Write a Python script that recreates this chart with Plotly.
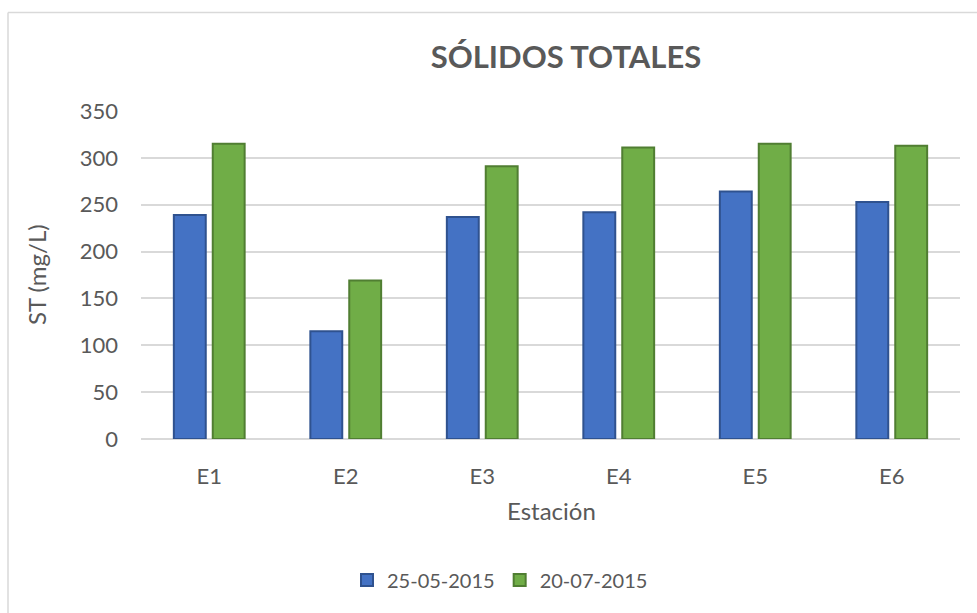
import plotly.graph_objects as go

categories = ["E1", "E2", "E3", "E4", "E5", "E6"]
serie_mayo = [239, 115, 237, 242, 264, 253]
serie_julio = [315, 169, 291, 311, 315, 313]
series_names = ["25-05-2015", "20-07-2015"]
y_ticks = [0, 50, 100, 150, 200, 250, 300, 350]

W, H = 977, 613
L, R, T, B = 141, 17, 111, 174
PW = W - L - R
PH = H - T - B

def px_x(px):
    return (px - L) / PW

def px_y(py):
    return (H - B - py) / PH

FONT = "Lato"
TXT = "#595959"

fig = go.Figure()
fig.add_trace(go.Bar(
    x=categories, y=serie_mayo, name=series_names[0],
    marker=dict(color="#4472C4", line=dict(color="#2F528F", width=2)),
))
fig.add_trace(go.Bar(
    x=categories, y=serie_julio, name=series_names[1],
    marker=dict(color="#70AD47", line=dict(color="#507E32", width=2)),
))

fig.update_layout(
    width=W, height=H,
    margin=dict(l=L, r=R, t=T, b=B),
    paper_bgcolor="white", plot_bgcolor="white",
    font=dict(family=FONT, size=20, color=TXT),
    barmode="group", bargap=0.43, bargroupgap=0.18,
    title=dict(text="<b>SÓLIDOS TOTALES</b>", font=dict(family=FONT, size=31, color=TXT),
               x=px_x(566), xref="paper", xanchor="center",
               y=1 - 57 / H, yref="container", yanchor="middle"),
    showlegend=True,
    legend=dict(orientation="h", x=px_x(500), xanchor="center", y=px_y(580), yanchor="middle",
                font=dict(family=FONT, size=20, color=TXT), traceorder="normal"),
    xaxis=dict(showgrid=False, showline=False, zeroline=False, ticks="",
               ticklabelstandoff=22, tickfont=dict(size=22, color=TXT)),
    yaxis=dict(range=[0, 350], tickvals=y_ticks, showgrid=True, gridcolor="#D9D9D9", gridwidth=1.5,
               zeroline=True, zerolinecolor="#D9D9D9", zerolinewidth=1.5, showline=False,
               ticks="", ticklabelstandoff=22, tickfont=dict(size=22, color=TXT)),
    annotations=[
        dict(text="Estación", xref="paper", yref="paper", x=px_x(551), y=px_y(510),
             xanchor="center", yanchor="middle", showarrow=False,
             font=dict(family=FONT, size=24, color=TXT)),
        dict(text="ST (mg/L)", xref="paper", yref="paper", x=px_x(36), y=px_y(275),
             xanchor="center", yanchor="middle", showarrow=False, textangle=-90,
             font=dict(family=FONT, size=24, color=TXT)),
    ],
    shapes=[
        dict(type="line", xref="paper", yref="paper", x0=px_x(8), x1=px_x(977), y0=px_y(12.5), y1=px_y(12.5),
             line=dict(color="#D9D9D9", width=1.5)),
        dict(type="line", xref="paper", yref="paper", x0=px_x(8), x1=px_x(8), y0=px_y(12.5), y1=px_y(613),
             line=dict(color="#D9D9D9", width=1.5)),
    ],
)

fig.write_html("out.html", config={"displayModeBar": False},
               post_script="document.body.style.margin='0';document.body.style.overflow='hidden';")
